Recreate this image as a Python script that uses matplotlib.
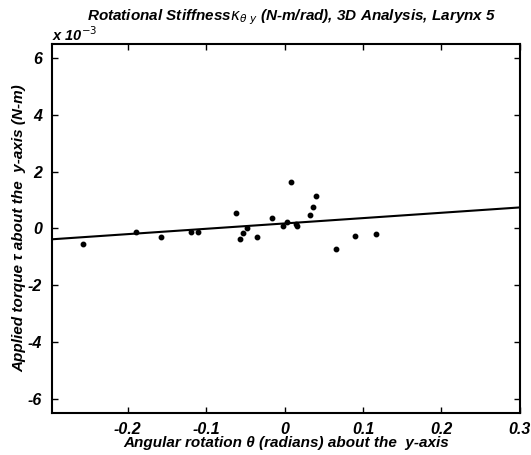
import matplotlib
matplotlib.use("Agg")
import matplotlib.pyplot as plt
import numpy as np

# data (torque in units of 1e-3 N-m)
theta = [-0.257, -0.189, -0.157, -0.120, -0.111, -0.0625, -0.0566, -0.053, -0.048,
         -0.0355, -0.0165, -0.0025, 0.003, 0.0076, 0.015, 0.0156, 0.032, 0.036,
         0.0405, 0.0658, 0.090, 0.116]
torque = [-0.55, -0.14, -0.32, -0.11, -0.11, 0.53, -0.39, -0.155, 0.02,
          -0.32, 0.37, 0.10, 0.23, 1.65, 0.16, 0.08, 0.47, 0.75,
          1.13, -0.74, -0.27, -0.18]
fit_x = [-0.3, 0.3]
fit_y = [-0.39, 0.74]
xticks = [-0.2, -0.1, 0, 0.1, 0.2, 0.3]
xticklabels = ["-0.2", "-0.1", "0", "0.1", "0.2", "0.3"]
yticks = [-6, -4, -2, 0, 2, 4, 6]
yticklabels = ["-6", "-4", "-2", "0", "2", "4", "6"]

plt.rcParams['font.family'] = ['Liberation Sans', 'DejaVu Sans']
fig = plt.figure(figsize=(5.31, 4.55), dpi=100)
ax = fig.add_axes([0.0974, 0.093, 0.8816, 0.81])

ax.plot(fit_x, fit_y, color='black', lw=1.5)
ax.plot(theta, torque, 'o', color='black', ms=3.2, mec='black')

ax.set_xlim(-0.297, 0.3)
ax.set_ylim(-6.5, 6.5)
ax.set_xticks(xticks)
ax.set_xticklabels(xticklabels)
ax.set_yticks(yticks)
ax.set_yticklabels(yticklabels)
ax.tick_params(axis='x', direction='in', top=True, length=4, width=1, pad=7)
ax.tick_params(axis='y', direction='in', right=True, length=4, width=1, pad=7)
for lab in ax.get_xticklabels() + ax.get_yticklabels():
    lab.set_fontsize(11.5)
    lab.set_fontweight('bold')
    lab.set_fontstyle('italic')
for s in ax.spines.values():
    s.set_linewidth(1.5)

fs = dict(fontsize=11, fontweight='bold', fontstyle='italic')
ax.set_xlabel("Angular rotation \u03b8 (radians) about the  y-axis", labelpad=-1, **fs)
ax.set_ylabel("Applied torque \u03c4 about the  y-axis (N-m)", labelpad=1, **fs)
fig.text(0.55, 0.962, "Rotational Stiffness$\\kappa_{\\theta\\ y}$ (N-m/rad), 3D Analysis, Larynx 5",
         ha='center', va='center', **fs)
fig.text(0.098, 0.91, "x 10$^{-3}$", ha='left', va='baseline', fontsize=10.5,
         fontweight='bold', fontstyle='italic')

fig.savefig("out.png", dpi=100)
